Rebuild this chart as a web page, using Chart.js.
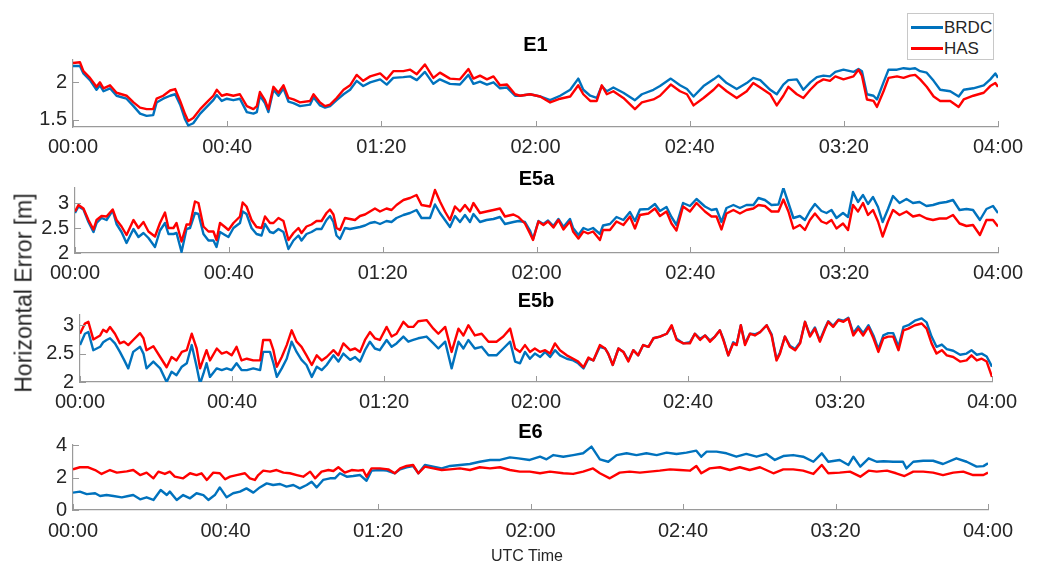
<!DOCTYPE html>
<html>
<head>
<meta charset="utf-8">
<script src="https://cdn.jsdelivr.net/npm/chart.js@4"></script>
<style>
html,body{margin:0;padding:0;background:#fff;}
#wrap{position:relative;width:1041px;height:563px;overflow:hidden;font-family:"Liberation Sans",Arial,sans-serif;color:#262626;background:#fff;}
#wrap canvas{position:absolute;left:0;}
.ylab{position:absolute;left:24px;top:293px;transform:translate(-50%,-50%) rotate(-90deg);font-size:23px;white-space:nowrap;line-height:1;}
.xlab{position:absolute;left:527px;top:556px;transform:translate(-50%,-50%);font-size:16px;white-space:nowrap;line-height:1;}
.legend{position:absolute;left:907px;top:13px;width:85px;height:45px;border:1px solid #c8c8c8;background:#fff;z-index:5;}
.legend .ln{position:absolute;left:3px;width:32px;height:2.5px;}
.legend .tx{position:absolute;left:36px;font-size:17px;line-height:1;transform:translateY(-50%);}
</style>
</head>
<body>
<div id="wrap">
  <canvas id="c1"></canvas>
  <canvas id="c2"></canvas>
  <canvas id="c3"></canvas>
  <canvas id="c4"></canvas>
  <div class="ylab">Horizontal Error [m]</div>
  <div class="xlab">UTC Time</div>
  <div class="legend">
    <span class="ln" style="top:12px;background:#0072BD"></span><span class="tx" style="top:13px">BRDC</span>
    <span class="ln" style="top:33px;background:#FF0000"></span><span class="tx" style="top:34px">HAS</span>
  </div>
</div>
<script>
// ---------- tick definitions ----------
const xTickMinutes = [0, 40, 80, 120, 160, 200, 240];
const xTickLabels = ["00:00", "00:40", "01:20", "02:00", "02:40", "03:20", "04:00"];
const panelTitles = ["E1", "E5a", "E5b", "E6"];
const e1YTicks = [1.5, 2];
const e5aYTicks = [2, 2.5, 3];
const e5bYTicks = [2, 2.5, 3];
const e6YTicks = [0, 2, 4];

// ---------- E1 (minutes since 00:00, metres) ----------
const e1Time = [0,1.8,2.7,4.4,6.1,7.0,7.9,9.6,11.3,13.9,15.7,17.4,19.1,20.8,21.7,23.4,25.2,26.5,27.8,29.1,29.9,31.2,33.0,34.7,36.4,37.3,38.6,39.9,41.6,43.3,45.1,46.8,47.7,48.5,49.8,50.7,52.0,53.3,54.6,55.9,57.2,58.9,61.5,62.4,64.1,65.4,66.7,68.4,70.2,71.9,73.6,75.3,77.1,79.7,81.4,83.1,85.7,87.5,89.2,91.3,93.5,95.2,97.8,100.4,102.6,103.9,105.6,107.4,109.1,110.8,112.6,114.7,
116.0,118.6,121.2,123.8,126.4,129.0,131.1,132.4,134.2,135.9,137.2,138.5,140.2,142.8,145.8,147.6,150.6,152.3,155.1,157.5,159.3,161.0,163.6,166.2,167.5,169.6,172.2,174.8,176.5,178.3,180.9,182.6,184.3,185.6,187.8,189.5,191.3,193.0,194.7,196.4,197.8,199.9,202.5,203.8,204.7,206.0,207.7,208.6,210.3,211.6,213.8,215.5,217.2,218.5,219.8,221.5,223.3,225.0,227.6,229.8,231.1,233.6,236.3,238.0,239.3,240];
const e1Has = [2.26,2.27,2.15,2.06,1.94,2.00,1.92,1.96,1.86,1.82,1.73,1.66,1.64,1.64,1.78,1.82,1.89,1.91,1.75,1.57,1.48,1.52,1.64,1.73,1.82,1.90,1.82,1.84,1.82,1.84,1.68,1.64,1.68,1.87,1.76,1.64,1.94,1.86,1.96,1.79,1.77,1.73,1.75,1.84,1.73,1.68,1.70,1.79,1.90,1.96,2.10,2.02,2.08,2.12,2.04,2.15,2.15,2.17,2.11,2.24,2.06,2.13,2.05,2.04,2.18,2.05,2.09,2.04,2.08,1.96,1.97,1.84,
1.82,1.84,1.81,1.73,1.78,1.81,1.96,1.84,1.75,1.75,1.96,1.84,1.88,1.79,1.64,1.73,1.77,1.82,1.97,1.88,1.84,1.69,1.79,1.90,1.97,1.88,1.79,1.88,1.99,1.93,1.84,1.69,1.82,1.94,1.84,1.79,1.90,1.99,2.04,2.02,2.08,2.04,2.08,2.17,2.09,1.77,1.75,1.67,1.88,2.06,2.08,2.06,2.09,2.10,2.04,1.94,1.81,1.75,1.75,1.67,1.77,1.82,1.86,1.95,1.99,1.94];
const e1Brdc = [2.22,2.22,2.12,2.03,1.90,1.96,1.88,1.92,1.82,1.78,1.68,1.58,1.55,1.56,1.73,1.78,1.82,1.84,1.70,1.50,1.42,1.45,1.58,1.67,1.76,1.83,1.75,1.78,1.76,1.78,1.60,1.58,1.60,1.82,1.72,1.60,1.90,1.82,1.92,1.74,1.72,1.68,1.70,1.80,1.69,1.66,1.68,1.76,1.84,1.90,2.02,1.95,2.00,2.04,1.97,2.06,2.07,2.08,2.03,2.14,1.98,2.04,1.98,1.97,2.10,1.98,2.01,1.97,2.00,1.92,1.93,1.82,
1.82,1.84,1.81,1.76,1.82,1.90,2.05,1.90,1.82,1.79,1.95,1.88,1.93,1.86,1.76,1.84,1.90,1.95,2.05,1.96,1.91,1.81,1.95,2.04,2.09,1.99,1.91,1.99,2.06,2.03,1.90,1.84,1.97,2.03,2.04,1.90,2.00,2.07,2.09,2.08,2.14,2.17,2.14,2.18,2.15,1.84,1.82,1.77,2.00,2.17,2.17,2.19,2.18,2.19,2.15,2.13,2.02,1.90,1.88,1.81,1.90,1.92,1.96,2.04,2.12,2.06];

// ---------- E5a ----------
const e5aTime = [0,0.9,2.2,3.5,4.8,5.6,6.9,8.2,9.8,10.8,12.1,13.4,15.2,16.5,17.8,19.1,20.8,22.1,23.4,24.3,25.6,26.4,27.7,29.0,29.9,31.2,32.1,33.4,34.7,36.0,36.8,37.7,39.0,39.9,41.2,42.9,43.6,44.6,45.9,47.2,48.5,49.4,50.7,51.6,52.9,54.2,55.5,56.8,58.1,58.9,60.2,61.5,62.8,64.1,65.4,66.3,67.2,68.0,68.9,70.2,71.5,72.8,74.1,75.4,76.7,78.0,79.3,81.0,82.3,83.6,85.4,87.1,88.8,90.1,92.3,93.6,94.9,96.2,97.5,98.8,100.1,101.4,102.7,103.6,105.3,107.0,108.8,110.5,111.8,114.0,115.3,
117.0,118.3,119.1,120.5,121.8,123.0,124.4,125.7,127.0,128.7,129.5,130.9,132.2,133.4,134.7,136.5,137.3,139.1,140.8,142.6,144.3,145.6,146.9,149.1,150.8,152.1,153.8,155.1,156.4,158.1,159.9,161.6,163.8,165.5,166.8,168.1,169.4,171.2,172.9,174.6,176.4,177.7,179.4,181.1,182.9,184.2,185.5,186.8,188.5,189.8,191.1,192.4,194.1,195.4,196.7,198.0,199.7,201.0,202.3,203.6,204.9,206.2,207.5,208.8,210.0,211.4,212.7,214.4,216.2,217.9,219.6,221.4,223.1,224.8,226.6,228.3,230.0,231.8,233.5,235.3,237.0,238.7,240];
const e5aHas = [2.83,2.96,2.89,2.66,2.47,2.66,2.74,2.73,2.87,2.66,2.53,2.36,2.66,2.50,2.62,2.43,2.33,2.60,2.81,2.50,2.50,2.60,2.23,2.57,2.57,3.03,3.00,2.53,2.43,2.43,2.26,2.60,2.52,2.46,2.60,2.73,3.01,2.93,2.66,2.52,2.50,2.73,2.60,2.60,2.70,2.64,2.26,2.40,2.50,2.40,2.53,2.57,2.64,2.64,2.80,2.87,2.77,2.50,2.46,2.70,2.68,2.66,2.74,2.77,2.83,2.89,2.83,2.89,2.86,2.96,3.06,3.10,3.16,2.96,2.93,3.26,3.03,2.83,2.66,2.93,2.83,2.96,2.83,3.00,2.80,2.83,2.86,2.89,2.73,2.77,2.72,
2.59,2.39,2.26,2.63,2.56,2.63,2.51,2.66,2.47,2.63,2.43,2.29,2.43,2.39,2.43,2.26,2.46,2.46,2.63,2.56,2.73,2.49,2.76,2.79,2.89,2.74,2.83,2.59,2.45,2.93,2.83,3.00,2.83,2.73,2.73,2.47,2.79,2.86,2.79,2.86,2.89,2.96,2.94,2.83,2.83,3.07,2.83,2.49,2.56,2.46,2.66,2.79,2.63,2.59,2.66,2.49,2.59,2.46,2.96,2.83,3.00,2.76,2.86,2.63,2.33,2.63,2.86,2.76,2.83,2.73,2.76,2.69,2.66,2.69,2.69,2.76,2.59,2.54,2.56,2.36,2.66,2.66,2.53];
const e5aBrdc = [2.80,2.93,2.87,2.62,2.42,2.60,2.70,2.66,2.85,2.58,2.42,2.20,2.48,2.32,2.40,2.30,2.12,2.45,2.60,2.38,2.38,2.40,2.02,2.48,2.50,2.80,2.78,2.38,2.25,2.25,2.12,2.42,2.36,2.32,2.50,2.60,2.83,2.78,2.50,2.38,2.35,2.58,2.42,2.40,2.48,2.42,2.08,2.25,2.35,2.25,2.38,2.42,2.48,2.48,2.66,2.74,2.62,2.35,2.28,2.50,2.48,2.50,2.52,2.55,2.60,2.62,2.58,2.64,2.62,2.70,2.76,2.80,2.86,2.70,2.70,2.97,2.80,2.66,2.52,2.74,2.62,2.76,2.62,2.78,2.62,2.66,2.68,2.72,2.58,2.62,2.64,
2.62,2.45,2.28,2.64,2.58,2.65,2.54,2.68,2.52,2.68,2.50,2.36,2.50,2.46,2.50,2.38,2.55,2.58,2.72,2.66,2.82,2.64,2.87,2.88,2.98,2.84,2.92,2.72,2.56,3.00,2.94,3.08,2.93,2.86,2.88,2.62,2.90,2.96,2.90,2.96,2.96,3.10,3.06,2.96,2.97,3.30,3.00,2.70,2.74,2.66,2.84,2.98,2.84,2.80,2.86,2.70,2.80,2.72,3.22,3.02,3.16,2.98,3.12,2.92,2.62,2.88,3.14,3.00,3.08,3.00,3.02,2.94,2.96,3.00,3.02,3.06,2.86,2.88,2.86,2.66,2.88,2.94,2.80];

// ---------- E5b ----------
const e5bTime = [0,1.3,2.2,3.5,5.3,6.1,7.0,7.9,9.2,10.5,11.6,12.7,14.0,15.8,16.7,17.5,19.3,21.1,22.8,24.1,25.4,26.8,28.1,29.4,30.7,31.6,32.5,33.3,34.2,36.0,37.3,38.6,39.9,41.2,42.5,43.9,45.6,47.4,48.2,50.0,50.9,51.8,53.1,54.4,55.7,57.0,58.3,59.6,61.0,62.3,63.6,64.9,66.7,68.0,69.3,71.1,72.4,73.7,75.0,76.3,77.6,78.9,80.7,82.0,83.3,85.1,86.4,87.7,89.0,91.2,93.0,94.3,96.1,97.8,99.6,100.9,102.2,103.9,105.7,107.5,109.6,111.4,113.2,114.5,
115.8,117.1,118.4,119.7,121.1,122.4,123.7,125.0,126.3,128.1,129.8,131.1,132.5,133.8,135.1,136.8,138.2,139.0,140.2,141.7,143.0,144.3,145.6,146.9,148.2,149.6,150.9,152.6,154.4,155.7,157.0,158.8,160.5,161.8,163.2,164.5,165.8,167.1,168.4,169.3,170.6,171.9,172.8,173.9,175.0,176.3,177.6,179.0,180.7,182.0,183.3,184.2,185.5,186.8,188.2,189.5,190.8,192.1,193.4,194.7,196.1,196.9,198.2,199.6,200.9,202.2,203.5,204.8,206.1,207.5,208.8,210.1,211.4,212.7,214.0,215.4,216.7,218.0,219.7,221.5,222.8,224.1,225.4,226.8,228.1,229.8,231.6,233.3,234.6,236.0,237.3,238.6,240];
const e5bHas = [2.85,3.03,3.06,2.75,2.82,2.92,2.88,2.97,2.85,2.68,2.71,2.65,2.74,2.86,2.77,2.56,2.63,2.44,2.26,2.44,2.38,2.53,2.56,2.85,2.59,2.24,2.41,2.56,2.38,2.59,2.50,2.53,2.47,2.62,2.38,2.41,2.38,2.38,2.74,2.74,2.56,2.27,2.44,2.65,2.91,2.71,2.62,2.47,2.30,2.47,2.38,2.44,2.56,2.47,2.68,2.56,2.59,2.53,2.74,2.88,2.77,2.74,2.97,2.80,2.85,3.06,2.97,2.97,3.07,3.09,2.94,2.85,2.97,2.53,2.94,2.82,3.00,2.82,2.85,2.71,2.71,2.80,2.94,2.59,
2.53,2.65,2.53,2.59,2.53,2.56,2.50,2.68,2.56,2.47,2.41,2.36,2.26,2.43,2.38,2.65,2.59,2.50,2.30,2.59,2.53,2.36,2.56,2.47,2.65,2.62,2.77,2.80,2.85,3.00,2.74,2.68,2.68,2.85,2.74,2.82,2.71,2.80,2.91,2.74,2.47,2.68,2.65,3.00,2.65,2.85,2.82,2.88,3.00,2.82,2.38,2.50,2.80,2.62,2.56,2.68,3.06,2.80,2.94,2.71,2.94,3.06,2.97,3.09,3.06,3.12,2.82,2.94,2.82,2.97,2.77,2.53,2.77,2.80,2.80,2.56,2.91,2.94,3.00,3.03,2.94,2.68,2.50,2.56,2.47,2.44,2.36,2.38,2.47,2.38,2.41,2.36,2.09];
const e5bBrdc = [2.65,2.85,2.88,2.56,2.62,2.70,2.74,2.77,2.68,2.53,2.39,2.24,2.53,2.62,2.50,2.24,2.36,2.24,2.00,2.18,2.12,2.27,2.33,2.65,2.27,1.97,2.15,2.33,2.09,2.24,2.21,2.24,2.21,2.33,2.21,2.21,2.24,2.21,2.53,2.53,2.33,2.09,2.24,2.41,2.71,2.53,2.39,2.30,2.09,2.27,2.21,2.30,2.47,2.36,2.50,2.39,2.44,2.36,2.56,2.71,2.59,2.56,2.74,2.62,2.68,2.80,2.71,2.74,2.77,2.80,2.68,2.59,2.71,2.24,2.71,2.59,2.74,2.59,2.62,2.47,2.47,2.59,2.71,2.36,
2.33,2.53,2.41,2.50,2.44,2.53,2.44,2.56,2.47,2.41,2.38,2.33,2.24,2.41,2.38,2.62,2.59,2.50,2.30,2.59,2.53,2.38,2.56,2.47,2.65,2.62,2.77,2.80,2.85,2.98,2.76,2.68,2.70,2.85,2.76,2.82,2.73,2.80,2.91,2.76,2.47,2.70,2.66,3.00,2.68,2.85,2.84,2.88,3.00,2.84,2.40,2.52,2.80,2.64,2.58,2.70,3.06,2.82,2.96,2.73,2.96,3.07,2.99,3.10,3.08,3.13,2.86,2.98,2.86,3.00,2.82,2.58,2.82,2.86,2.86,2.62,2.97,3.00,3.08,3.12,3.05,2.80,2.62,2.66,2.58,2.55,2.48,2.50,2.56,2.48,2.50,2.45,2.27];

// ---------- E6 ----------
const e6TimeHas = [0,1.8,4.0,5.8,7.5,9.7,11.5,14.1,15.8,17.6,19.3,21.1,22.4,24.1,25.4,26.7,28.9,30.7,32.4,33.7,35.1,36.8,38.5,39.9,41.2,42.9,45.1,46.4,47.7,48.6,49.9,51.7,53.4,55.2,56.9,58.7,60.4,62.2,63.5,65.2,67.0,68.3,69.6,71.3,73.1,74.8,76.1,77.0,78.3,80.5,82.7,84.4,85.8,87.5,89.2,90.6,92.3,94.5,96.7,98.9,101.5,104.1,106.7,109.4,112.0,114.6,
117.2,119.8,122.5,125.1,128.6,131.2,133.8,136.4,138.2,140.8,143.4,146.0,148.7,151.3,153.9,156.6,159.2,161.8,163.5,164.8,167.0,169.7,172.3,174.9,177.5,180.2,183.7,186.3,188.9,191.5,194.2,196.4,198.1,201.1,203.8,206.5,208.7,210.8,213.5,215.9,218.1,220.4,223.0,225.6,228.2,230.9,233.5,236.1,238.8,240];
const e6Has = [2.50,2.63,2.63,2.46,2.22,2.46,2.30,2.38,2.46,2.15,2.30,1.95,2.36,2.22,2.36,2.05,1.95,2.26,2.15,2.26,1.85,2.30,2.26,1.89,2.05,2.15,2.26,1.95,1.85,2.15,2.42,2.36,2.46,2.30,2.26,2.15,2.05,2.36,1.95,2.36,2.46,2.40,2.63,2.30,2.46,2.42,2.46,2.05,2.56,2.56,2.50,2.26,2.56,2.71,2.77,2.26,2.67,2.56,2.46,2.50,2.56,2.46,2.63,2.56,2.63,2.46,
2.36,2.36,2.26,2.36,2.26,2.22,2.36,2.56,2.26,1.95,2.30,2.36,2.30,2.36,2.42,2.50,2.46,2.42,2.71,2.26,2.56,2.63,2.46,2.63,2.46,2.63,2.26,2.50,2.50,2.42,2.22,2.77,2.26,2.30,2.36,2.05,2.42,2.36,2.42,2.26,2.09,2.36,2.36,2.30,2.15,2.30,2.36,2.15,2.15,2.30];
const e6TimeBrdc = [0,1.8,3.6,5.8,7.1,8.8,10.6,12.8,14.5,15.8,17.6,19.3,21.1,23.0,24.6,25.4,27.2,28.9,30.7,32.4,34.2,35.5,37.2,38.5,40.3,42.0,43.8,45.5,47.3,49.0,50.8,52.5,54.3,56.0,57.8,59.5,61.3,62.6,63.9,65.6,67.4,68.7,70.0,71.8,73.5,75.3,77.0,78.3,80.5,82.3,84.4,85.8,87.5,89.2,90.6,92.3,94.5,96.7,98.9,101.5,104.1,106.7,109.4,112.0,114.6,116.8,
119.8,122.5,124.2,126.0,128.6,131.2,133.8,136.0,138.2,140.4,142.6,145.2,147.8,150.4,153.1,155.7,158.3,160.9,163.5,164.8,166.2,168.8,171.4,174.0,176.6,179.3,181.9,184.1,186.3,188.9,191.5,194.2,196.4,198.1,201.1,203.4,204.7,206.5,208.7,210.8,212.6,215.1,217.7,218.6,220.4,223.0,225.6,228.2,231.7,234.4,237.0,238.8,240];
const e6Brdc = [1.07,1.13,0.98,1.03,0.86,0.92,0.86,0.78,0.86,0.92,0.66,0.78,0.62,1.23,0.92,1.13,0.62,0.92,0.72,1.03,0.92,0.62,0.92,1.39,0.78,1.03,1.13,1.33,1.07,1.39,1.64,1.54,1.60,1.44,1.54,1.33,1.54,1.74,1.39,1.85,1.95,1.95,2.26,2.05,2.09,2.15,1.80,2.42,2.46,2.42,2.26,2.50,2.63,2.71,2.26,2.77,2.67,2.56,2.71,2.77,2.83,2.97,3.08,3.08,3.24,3.18,
3.08,3.28,3.12,3.38,3.28,3.38,3.49,3.90,3.12,2.97,3.38,3.49,3.38,3.49,3.38,3.53,3.45,3.53,3.65,3.28,3.59,3.59,3.49,3.28,3.45,3.28,3.45,3.08,3.32,3.38,3.28,2.97,3.49,2.97,3.08,2.77,3.28,2.67,3.18,2.97,3.00,2.97,2.97,2.56,2.97,3.03,3.03,2.83,3.18,2.97,2.67,2.70,2.87];

// ---------- styling ----------
const FONT = '"Liberation Sans", Arial, sans-serif';
const BLUE = '#0072BD';
const RED = '#FF0000';
const AXIS = '#9a9a9a';
const TEXT = '#262626';

const inwardTicks = {
  id: 'inwardTicks',
  afterDraw(chart) {
    const {ctx, chartArea: a, scales: {x, y}} = chart;
    ctx.save();
    ctx.strokeStyle = AXIS;
    ctx.lineWidth = 1;
    ctx.beginPath();
    x.ticks.forEach(t => {
      const px = Math.round(x.getPixelForValue(t.value)) + 0.5;
      ctx.moveTo(px, a.bottom); ctx.lineTo(px, a.bottom - 6);
    });
    y.ticks.forEach(t => {
      const py = Math.round(y.getPixelForValue(t.value)) + 0.5;
      ctx.moveTo(a.left, py); ctx.lineTo(a.left + 6, py);
    });
    ctx.stroke();
    ctx.restore();
  }
};

function toPoints(times, values) {
  return times.map((t, i) => ({x: t, y: values[i]}));
}

function makePanel(p) {
  const cv = document.getElementById(p.id);
  cv.width = 1041; cv.height = p.height;
  cv.style.width = '1041px'; cv.style.height = p.height + 'px';
  cv.style.top = p.top + 'px';
  new Chart(cv, {
    type: 'line',
    data: {
      datasets: [
        {label: 'BRDC', data: toPoints(p.tB, p.vB), borderColor: BLUE, backgroundColor: BLUE, borderWidth: 2.4, borderJoinStyle: 'round', pointRadius: 0, tension: 0, order: 1},
        {label: 'HAS', data: toPoints(p.tH, p.vH), borderColor: RED, backgroundColor: RED, borderWidth: 2.4, borderJoinStyle: 'round', pointRadius: 0, tension: 0, order: 0}
      ]
    },
    options: {
      responsive: false,
      animation: false,
      devicePixelRatio: 1,
      events: [],
      layout: {padding: {left: 0, right: 1041 - p.right, top: 0, bottom: 0}},
      plugins: {
        legend: {display: false},
        tooltip: {enabled: false},
        title: {
          display: true, text: p.title, fullSize: false, color: '#000',
          font: {family: FONT, size: 20, weight: 'bold', lineHeight: 0.8},
          padding: {top: p.ta, bottom: p.tb}
        }
      },
      scales: {
        x: {
          type: 'linear', min: 0, max: 240,
          afterBuildTicks: s => { s.ticks = xTickMinutes.map(v => ({value: v})); },
          afterFit: s => { s.height = 40; },
          grid: {display: false, drawTicks: false},
          border: {display: true, color: AXIS, width: 1.2},
          ticks: {
            padding: p.xpad, color: TEXT, maxRotation: 0, autoSkip: false,
            font: {family: FONT, size: 20},
            callback: v => xTickLabels[xTickMinutes.indexOf(v)]
          }
        },
        y: {
          type: 'linear', min: p.yMin, max: p.yMax,
          afterBuildTicks: s => { s.ticks = p.yTicks.map(v => ({value: v})); },
          afterFit: s => { s.width = p.left; },
          grid: {display: false, drawTicks: false},
          border: {display: true, color: AXIS, width: 1.2},
          ticks: {padding: 6, color: TEXT, font: {family: FONT, size: 20}, callback: v => String(v)}
        }
      }
    },
    plugins: [inwardTicks]
  });
}

makePanel({id: 'c1', top: 20, height: 147, left: 73, right: 998, ta: 17, tb: 7, xpad: 8,
  title: panelTitles[0], yMin: 1.4, yMax: 2.3, yTicks: e1YTicks,
  tB: e1Time, vB: e1Brdc, tH: e1Time, vH: e1Has});
makePanel({id: 'c2', top: 150, height: 143, left: 75, right: 998, ta: 21, tb: 1, xpad: 8,
  title: panelTitles[1], yMin: 2, yMax: 3.3, yTicks: e5aYTicks,
  tB: e5aTime, vB: e5aBrdc, tH: e5aTime, vH: e5aHas});
makePanel({id: 'c3', top: 280, height: 142, left: 80, right: 992, ta: 13, tb: 6, xpad: 8,
  title: panelTitles[2], yMin: 2, yMax: 3.18, yTicks: e5bYTicks,
  tB: e5bTime, vB: e5bBrdc, tH: e5bTime, vH: e5bHas});
makePanel({id: 'c4', top: 405, height: 145, left: 73, right: 988, ta: 19, tb: 5, xpad: 9,
  title: panelTitles[3], yMin: 0, yMax: 4, yTicks: e6YTicks,
  tB: e6TimeBrdc, vB: e6Brdc, tH: e6TimeHas, vH: e6Has});
</script>
</body>
</html>
